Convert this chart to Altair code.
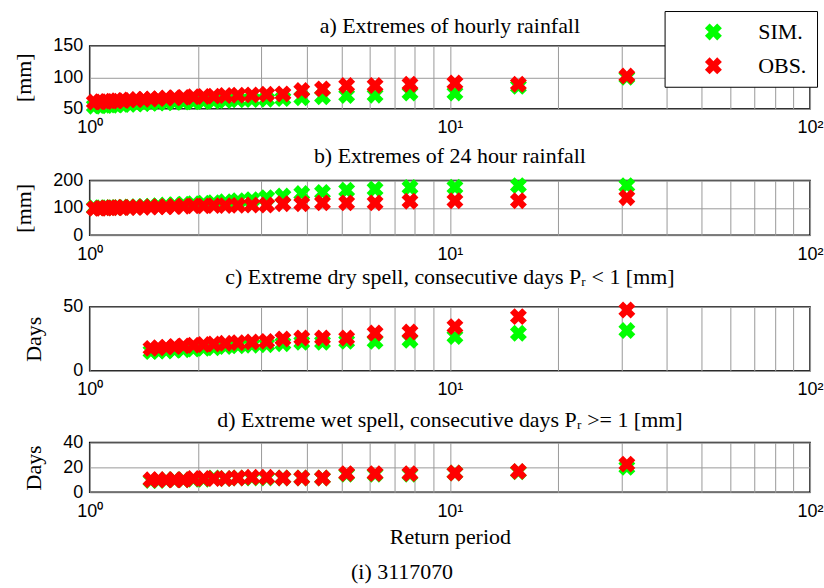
import altair as alt
import pandas as pd

# Return periods (years) of the ranked annual extremes, largest first
RETURN_PERIOD = [31.0, 15.5, 10.33, 7.75, 6.2, 5.17, 4.43, 3.88, 3.44, 3.1,
                 2.82, 2.58, 2.38, 2.21, 2.07, 1.94, 1.82, 1.72, 1.63, 1.55,
                 1.48, 1.41, 1.35, 1.29, 1.24, 1.19, 1.15, 1.11, 1.07, 1.03]

# a) hourly rainfall extremes [mm]
HOURLY_SIM = [100, 85.5, 75, 75, 71.5, 71, 69, 67.5, 66, 65,
              64.5, 64, 63, 62, 61.5, 61, 60.5, 60, 59.5, 59,
              58.5, 58, 57.5, 57, 56.5, 56, 55.5, 55, 54.5, 54]
HOURLY_OBS = [102, 89, 91, 89, 87, 87, 81.5, 79, 73.5, 73,
              72, 71.5, 71, 70, 69.5, 69, 68, 67.5, 67, 66,
              65.5, 65, 64.5, 64, 63, 62.5, 62, 61.5, 61, 60.5]

# b) 24 hour rainfall extremes [mm]
DAILY_SIM = [181, 181, 175, 174, 168, 164, 156, 152, 143, 137,
             130, 126, 122, 119, 117, 115, 113, 111, 110, 108,
             106, 105, 104, 103, 102, 101.5, 101, 100.5, 100, 100]
DAILY_OBS = [137, 126, 126, 124, 118, 118, 118, 115, 115, 110,
             110, 109, 108, 108, 107, 107, 106, 105, 104, 104,
             103, 102, 102, 101, 101, 100, 100, 99, 98, 98]

# c) longest dry spell [days]
DRY_SIM = [31.5, 29.4, 26.8, 23.8, 23, 23, 22.3, 22.3, 21.2, 20.4,
           20, 19.5, 19, 18, 17.5, 17, 16.5, 16, 15.5, 15.5, 15]
DRY_OBS = [47.6, 42.4, 34.6, 30.4, 29.6, 25.7, 25.7, 25.7, 24.9, 23,
           22.5, 22, 21.5, 21, 20.5, 20, 19.5, 19, 18.5, 18, 17.5]

# d) longest wet spell [days]
WET_SIM = [20, 16.5, 15.5, 14.5, 14.5, 14.5, 11.5, 11.5, 11.5, 11.5,
           11.5, 11.5, 11, 11.5, 10.5, 10.5, 10, 10, 10, 9.5, 9.5]
WET_OBS = [22.6, 16.8, 15.5, 15, 15, 15, 11.5, 11.5, 11.5, 12,
           12, 11.5, 11, 11, 11, 11, 10, 10, 10, 10, 10]

SERIES = ["SIM.", "OBS."]
COLORS = ["#00ff00", "#ff0000"]

# log-axis grid: decades plus the minor positions in between
X_GRID = [1, 2, 3, 4, 5, 6, 7, 8, 9, 10, 20, 30, 40, 50, 60, 70, 80, 90, 100]
X_LABEL_EXPR = ("datum.value == 1 ? '10\u2070' : datum.value == 10 ? '10\u00b9' : "
                "datum.value == 100 ? '10\u00b2' : ''")

# thick "x" marker, drawn inside the unit square [-1, 1]
X_SHAPE = ("M-0.45,-1L0,-0.55L0.45,-1L1,-0.45L0.55,0L1,0.45L0.45,1L0,0.55"
           "L-0.45,1L-1,0.45L-0.55,0L-1,-0.45Z")
MARK_SIZE = 289

PLOT_W = 723

legend = alt.Legend(
    title=None, orient="none", legendX=577, legendY=-35, direction="vertical",
    strokeColor="black", fillColor="white", padding=10, cornerRadius=0,
    symbolType=X_SHAPE, symbolSize=MARK_SIZE, symbolOffset=28, symbolStrokeWidth=0,
    labelOffset=34, rowPadding=12, labelFont="Liberation Serif", labelFontSize=22,
    labelColor="black",
)


def panel(sim, obs, title, title_offset, ytitle, ydomain, yticks, height, xtitle=""):
    n = len(sim)
    df = pd.DataFrame({
        "T": RETURN_PERIOD[:n] * 2,
        "value": list(sim) + list(obs),
        "series": ["SIM."] * n + ["OBS."] * n,
    })
    x_axis = dict(values=X_GRID, labelExpr=X_LABEL_EXPR, labelFlush=False,
                  labelOverlap=False, labelPadding=10, labelBaseline="top",
                  title=xtitle, titlePadding=6)
    points = alt.Chart(df).mark_point(
        filled=True, opacity=1, size=MARK_SIZE, shape=X_SHAPE, strokeWidth=0
    ).encode(
        x=alt.X("T:Q", scale=alt.Scale(type="log", domain=[1, 100], nice=False),
                axis=alt.Axis(**x_axis)),
        y=alt.Y("value:Q", scale=alt.Scale(domain=ydomain, nice=False, zero=False),
                axis=alt.Axis(values=yticks, title=ytitle, titlePadding=17,
                              labelPadding=7)),
        color=alt.Color("series:N", scale=alt.Scale(domain=SERIES, range=COLORS),
                        legend=legend),
    )
    return points.properties(
        width=PLOT_W, height=height,
        title=alt.TitleParams(title, font="Liberation Serif", fontSize=22,
                              fontWeight="normal", color="black",
                              offset=title_offset, frame="group"),
    )


pa = panel(HOURLY_SIM, HOURLY_OBS, "a) Extremes of hourly rainfall", -1, "[mm]",
           [50, 150], [50, 100, 150], 63)
pb = panel(DAILY_SIM, DAILY_OBS, "b) Extremes of 24 hour rainfall", 3, "[mm]",
           [0, 200], [0, 100, 200], 55)
pc = panel(DRY_SIM, DRY_OBS,
           "c) Extreme dry spell, consecutive days P\u1d63 < 1 [mm]", 9, "Days",
           [0, 50], [0, 50], 64)
pd_ = panel(WET_SIM, WET_OBS,
            "d) Extreme wet spell, consecutive days P\u1d63 >= 1 [mm]", 2, "Days",
            [0, 40], [0, 20, 40], 50, xtitle="Return period")

chart = alt.vconcat(
    pa, pb, pc, pd_, spacing=72, bounds="flush",
    title=alt.TitleParams("(i) 3117070", orient="bottom", anchor="middle",
                          font="Liberation Serif", fontSize=22, fontWeight="normal",
                          color="black", offset=14, dx=-16),
).configure(
    padding={"left": 12, "top": 9, "right": 0, "bottom": 5},
    background="white",
).configure_view(
    stroke="black", strokeWidth=1.5,
).configure_axis(
    labelFont="Liberation Sans", labelFontSize=18, labelColor="black",
    titleFont="Liberation Serif", titleFontSize=22, titleFontWeight="normal",
    titleColor="black", domain=False, ticks=False,
    grid=True, gridColor="#9a9a9a", gridWidth=1,
)

chart.save("out.html", embed_options={"renderer": "svg", "actions": False})
